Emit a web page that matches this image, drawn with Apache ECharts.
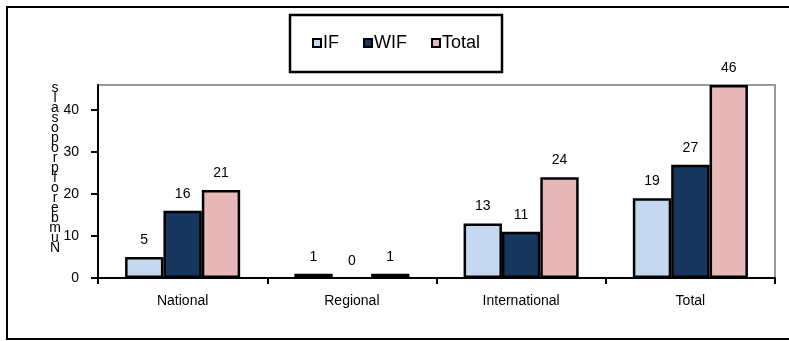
<!DOCTYPE html>
<html>
<head>
<meta charset="utf-8">
<style>
  html, body { margin: 0; padding: 0; background: #fff; }
  #chart { width: 789px; height: 341px; }
</style>
<script src="https://cdn.jsdelivr.net/npm/echarts@6/dist/echarts.min.js"></script>
</head>
<body>
<div id="chart"></div>
<script>
// Proposal counts by scope
const categories = ['National', 'Regional', 'International', 'Total'];
const ifValues = [5, 1, 13, 19];
const wifValues = [16, 0, 11, 27];
const totalValues = [21, 1, 24, 46];
const yTicks = [0, 10, 20, 30, 40];
const yTitle = 'Number of proposals';

const FONT = '"Liberation Sans", Arial, sans-serif';
const colors = { IF: '#c6d8f0', WIF: '#17375e', Total: '#e6b8b8' };

function barSeries(name, data) {
  return {
    name: name,
    type: 'bar',
    // zero-height bars keep their label but draw no outline
    data: data.map(v => v === 0 ? { value: v, itemStyle: { borderWidth: 0 } } : v),
    barGap: '0%',
    barCategoryGap: '32%',
    itemStyle: { color: colors[name], borderColor: '#000', borderWidth: 2.5 },
    label: {
      show: true,
      position: 'top',
      distance: 10,
      color: '#000',
      fontFamily: FONT,
      fontSize: 14
    }
  };
}

// Vertical title: one upright character per line, read bottom to top
const stackedTitle = yTitle.split('').filter(c => c !== ' ').reverse().join('\n');

const chart = echarts.init(document.getElementById('chart'), null, { renderer: 'canvas' });
chart.setOption({
  animation: false,
  backgroundColor: '#fff',
  textStyle: { fontFamily: FONT },
  grid: {
    left: 98, right: 14, top: 85, bottom: 63,
    show: true, borderColor: '#999', borderWidth: 2, backgroundColor: 'transparent'
  },
  legend: {
    left: 312, top: 34, padding: 0,
    itemWidth: 8, itemHeight: 8, itemGap: 24,
    icon: 'rect',
    itemStyle: { borderColor: '#000', borderWidth: 2 },
    textStyle: { fontFamily: FONT, fontSize: 18, color: '#000', padding: [0, 0, 0, -3] },
    data: ['IF', 'WIF', 'Total']
  },
  xAxis: {
    type: 'category',
    data: categories,
    axisLine: { lineStyle: { color: '#000', width: 2 } },
    axisTick: { show: true, length: 6, lineStyle: { color: '#000', width: 2 } },
    axisLabel: { color: '#000', fontFamily: FONT, fontSize: 14, margin: 16 },
    splitLine: { show: false }
  },
  yAxis: {
    type: 'value',
    min: 0, max: 46, interval: 10,
    axisLine: { show: true, lineStyle: { color: '#000', width: 2 } },
    axisTick: { show: true, length: 7, customValues: yTicks, lineStyle: { color: '#000', width: 2 } },
    axisLabel: { color: '#000', fontFamily: FONT, fontSize: 14, margin: 19, customValues: yTicks },
    splitLine: { show: false }
  },
  graphic: [
    {
      type: 'rect',
      shape: { x: 7, y: 7, width: 800, height: 332 },
      style: { fill: null, stroke: '#000', lineWidth: 2 },
      silent: true, z: 0
    },
    {
      type: 'rect',
      shape: { x: 290, y: 15, width: 212, height: 57 },
      style: { fill: null, stroke: '#000', lineWidth: 2.5 },
      silent: true, z: 0
    },
    {
      type: 'text',
      x: 55, y: 168,
      style: {
        text: stackedTitle,
        fontFamily: FONT, fontSize: 14, lineHeight: 10,
        fill: '#000', align: 'center', verticalAlign: 'middle'
      },
      silent: true, z: 10
    }
  ],
  series: [
    barSeries('IF', ifValues),
    barSeries('WIF', wifValues),
    barSeries('Total', totalValues)
  ]
});
</script>
</body>
</html>
